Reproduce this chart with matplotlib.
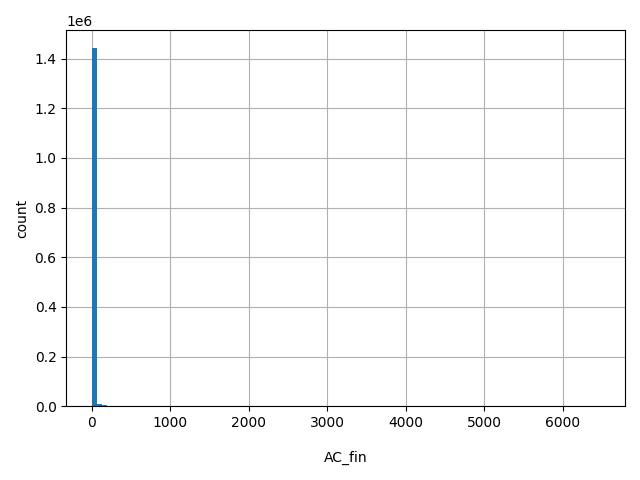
import numpy as np
from matplotlib import pyplot as plt

# histogram of AC_fin, 100 bins over [0, 6470]
x_min = 0
x_max = 6470
n_bins = 100
# counts (only the first few bins are visible)
counts_head = [1442000, 8000, 3500, 1200, 600, 300, 150, 80, 40, 20]
counts_tail_last = 1

counts = np.zeros(n_bins)
counts[:len(counts_head)] = counts_head
counts[-1] = counts_tail_last
edges = np.linspace(x_min, x_max, n_bins + 1)

fig, ax = plt.subplots(figsize=(6.4, 4.8), dpi=100)
ax.hist(edges[:-1], bins=edges, weights=counts, color='#1f77b4')
ax.grid(True)
ax.set_axisbelow(True)
ax.set_xlabel('AC_fin', labelpad=15)
ax.set_ylabel('count')
plt.tight_layout()
plt.savefig('out.png')
